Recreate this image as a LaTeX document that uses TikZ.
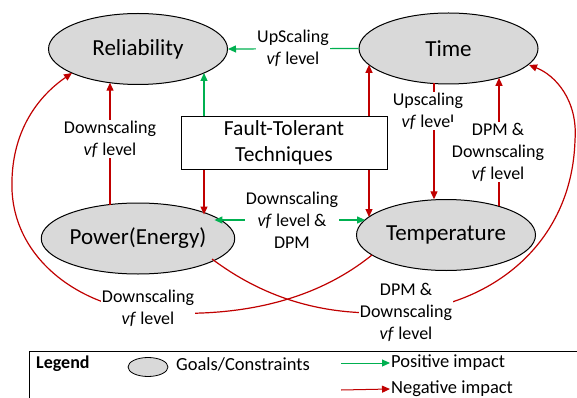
\documentclass[tikz,border=0pt]{standalone}
\usepackage{fontspec}
\setmainfont{Carlito}
\usetikzlibrary{shapes.geometric,arrows.meta,calc}
\definecolor{posgreen}{HTML}{00B050}
\definecolor{negred}{HTML}{C00000}
\definecolor{goalgray}{HTML}{D9D9D9}
\begin{document}
\begin{tikzpicture}[x=1pt,y=-1pt,
  goal/.style={ellipse,draw,fill=goalgray,line width=1pt,minimum width=179pt,minimum height=71pt,inner sep=0pt,font=\fontsize{23}{27}\selectfont},
  lbl/.style={fill=white,align=center,inner sep=1pt,font=\fontsize{18}{22}\selectfont},
  legtxt/.style={anchor=west,inner sep=1pt,font=\fontsize{18.5}{22}\selectfont},
  posarrow/.style={draw=posgreen,line width=1.2pt,-{Triangle[length=8pt,width=7pt]}},
  negarrow/.style={draw=negred,line width=1.2pt,-{Triangle[length=8pt,width=7pt]}},
]
\useasboundingbox (0,0) rectangle (577,398);
% goals
\node[goal] (rel) at (138,49) {Reliability};
\node[goal] (time) at (448.5,48.5) {Time};
\node[goal] (pow) at (138,238.5) {Power(Energy)};
\node[goal] (temp) at (446,235) {Temperature};
\node[draw,line width=1pt,minimum width=206pt,minimum height=52pt,align=center,inner sep=0pt,font=\fontsize{21.5}{26}\selectfont] (ft) at (284,143) {Fault-Tolerant\\Techniques};
\node[lbl] (lmid) at (292,220) {Downscaling\\\textit{vf} level \&\\DPM};
% border points
\coordinate (rA) at ($(rel.center)+(66,24)$);
\coordinate (rB) at ($(rel.center)+(-28,33.7)$);
\coordinate (rC) at ($(rel.center)+(-66,24)$);
\coordinate (tA) at ($(time.center)+(-79.5,16.3)$);
\coordinate (tB) at ($(time.center)+(-14.5,35)$);
\coordinate (tC) at ($(time.center)+(50.5,29.3)$);
\coordinate (tD) at ($(time.center)+(80.5,16.5)$);
\coordinate (pA) at ($(pow.center)+(-28,-33.7)$);
\coordinate (pB) at ($(pow.center)+(66,-24)$);
\coordinate (pC) at ($(pow.center)+(76.4,-18.5)$);
\coordinate (pD) at ($(pow.center)+(74,20.5)$);
\coordinate (eA) at ($(temp.center)+(-12,-35.7)$);
\coordinate (eB) at ($(temp.center)+(53,-28.9)$);
\coordinate (eC) at ($(temp.center)+(-77,-18)$);
\coordinate (eD) at ($(temp.center)+(-80.9,-15)$);
\coordinate (eE) at ($(temp.center)+(-74,20)$);
% connectors
\draw[posarrow] (time.west) -- (rel.east);
\draw[posarrow] (ft.north -| rA) -- (rA);
\draw[negarrow] (ft.north -| tA) -- (tA);
\draw[negarrow] (tB) -- (tB |- eA);
\draw[negarrow] (eB) -- (eB |- tC);
\draw[negarrow] (pA) -- (pA |- rB);
\draw[negarrow] (ft.south -| pB) -- (pB);
\draw[negarrow] (ft.south -| eC) -- (eC);
\draw[posarrow] (lmid.west) -- (pC);
\draw[posarrow] (lmid.east) -- (eD);
\draw[negarrow] (eE) .. controls (310,305) and (230,318) .. (148,312)
  .. controls (80,306) and (15,260) .. (12,190)
  .. controls (10,130) and (40,95) .. (rC);
\draw[negarrow] (pD) .. controls (260,295) and (320,318) .. (400,312)
  .. controls (490,306) and (572,245) .. (575,140)
  .. controls (578,100) and (555,75) .. (tD);
% labels
\node[lbl] (lup) at (293,48) {UpScaling\\\textit{vf} level};
\node[lbl] (lleft) at (110,139) {Downscaling\\\textit{vf} level};
\node[lbl] (lupsc) at (428,111) {Upscaling\\\textit{vf} level};
\node[lbl] (ldpm) at (498,152) {DPM \&\\Downscaling\\\textit{vf} level};
\node[lbl] (lbotl) at (148,308) {Downscaling\\\textit{vf} level};
\node[lbl] (lbotr) at (406,312) {DPM \&\\Downscaling\\\textit{vf} level};
% legend
\draw[line width=0.8pt] (29,398) -- (29,351) -- (577,351);
\node[legtxt,font=\bfseries\fontsize{18}{22}\selectfont] (legt) at (35,364) {Legend};
\node[ellipse,draw,fill=goalgray,line width=0.8pt,minimum width=40pt,minimum height=19pt,inner sep=0pt] (legell) at (148,367) {};
\node[legtxt] (leggoal) at (175,364) {Goals/Constraints};
\coordinate (gs) at (341,363);
\node[legtxt] (legpos) at (390,363) {Positive impact};
\draw[posarrow,line width=1pt] (gs) -- (legpos.west);
\coordinate (rs) at (341,390);
\node[legtxt] (legneg) at (390,389) {Negative impact};
\draw[negarrow,line width=1pt] (rs) -- (legneg.west);
\end{tikzpicture}
\end{document}
